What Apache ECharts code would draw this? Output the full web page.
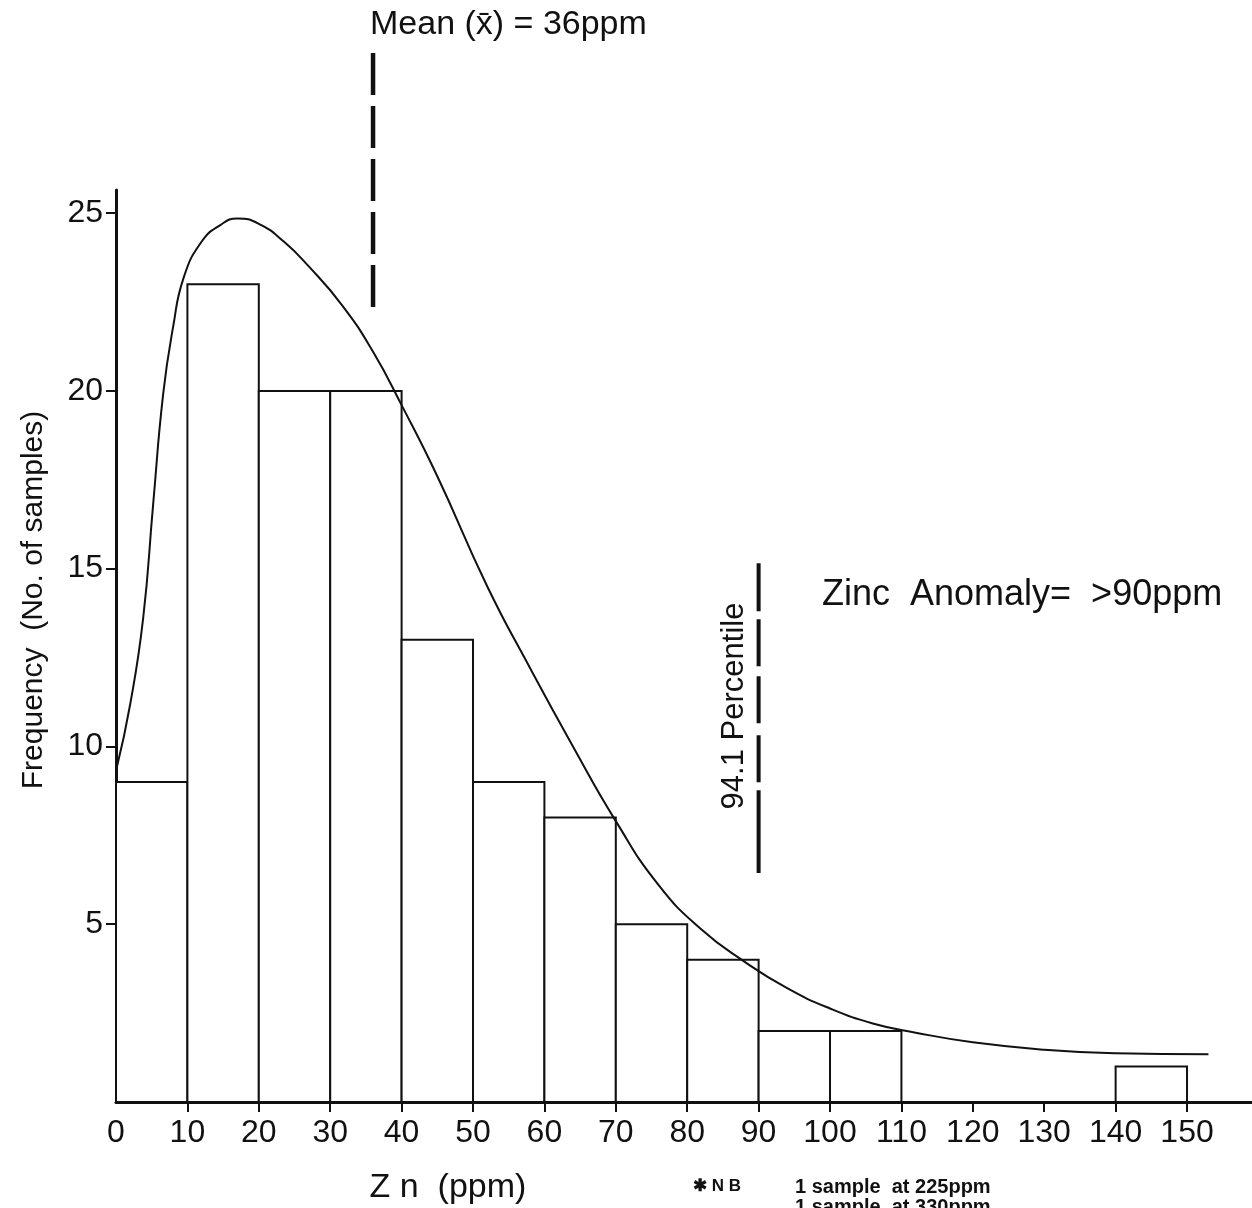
<!DOCTYPE html>
<html>
<head>
<meta charset="utf-8">
<script src="https://cdn.jsdelivr.net/npm/echarts@6/dist/echarts.min.js"></script>
<style>
  html,body{margin:0;padding:0;background:#fff;}
  #main{width:1252px;height:1208px;}
</style>
</head>
<body>
<div id="main"></div>
<script>
// histogram bins: [from, to, count]  (110-140 empty)
var binStart = [0, 10, 20, 30, 40, 50, 60, 70, 80, 90, 100, 140];
var binEnd   = [10, 20, 30, 40, 50, 60, 70, 80, 90, 100, 110, 150];
var counts   = [9, 23, 20, 20, 13, 9, 8, 5, 4, 2, 2, 1];

// fitted curve
var curveX = [0.1, 2, 3.8, 5.2, 6.6, 8, 9.5, 12, 14.5, 17, 20, 23.5, 27, 31.7, 36, 40, 45, 52, 58, 64, 70, 76, 82, 88, 94, 100, 106, 112, 120, 130, 140, 153];
var curveY = [9.4, 11.2, 13.6, 16.8, 19.9, 21.8, 23.2, 24.2, 24.65, 24.85, 24.7, 24.2, 23.5, 22.4, 21.1, 19.6, 17.6, 14.5, 12.2, 10.0, 7.9, 6.1, 4.85, 3.95, 3.2, 2.63, 2.21, 1.95, 1.68, 1.47, 1.37, 1.34];

var xTickLabels = [0, 10, 20, 30, 40, 50, 60, 70, 80, 90, 100, 110, 120, 130, 140, 150];
var xTicks = [10, 20, 30, 40, 50, 60, 70, 80, 90, 100, 110, 120, 130, 140, 150];
var yTicks = [5, 10, 15, 20, 25];

// dashed markers, drawn top -> bottom
var meanLine = [[36, 29.5], [36, 22.35]];
var pctLine  = [[90, 15.15], [90, 6.44]];

var FONT = 'Liberation Sans';
var chart = echarts.init(document.getElementById('main'));

function dashed(lineData, dash, w) {
  return {
    type: 'custom', clip: false, silent: true,
    data: lineData,
    renderItem: function (params, api) {
      if (params.dataIndex > 0) return null;
      var a = api.coord(lineData[0]), b = api.coord(lineData[1]);
      return { type: 'line', shape: { x1: a[0], y1: a[1], x2: b[0], y2: b[1] },
        style: { stroke: '#111', lineWidth: w, lineDash: dash } };
    }
  };
}

chart.setOption({
  animation: false,
  backgroundColor: '#fff',
  grid: { left: 116, right: 0, top: 190, bottom: 106, containLabel: false },
  xAxis: {
    type: 'value', min: 0, max: 159.1,
    axisLine: { show: true, lineStyle: { color: '#111', width: 3 } },
    axisTick: { show: true, length: 10, customValues: xTicks, lineStyle: { color: '#111', width: 2 } },
    axisLabel: { customValues: xTickLabels, color: '#111', fontSize: 32, fontFamily: FONT, margin: 15 },
    splitLine: { show: false }
  },
  yAxis: {
    type: 'value', min: 0, max: 25.65,
    axisLine: { show: true, lineStyle: { color: '#111', width: 3 } },
    axisTick: { show: true, length: 10, customValues: yTicks, lineStyle: { color: '#111', width: 2 } },
    axisLabel: { customValues: yTicks, color: '#111', fontSize: 32, fontFamily: FONT, margin: 13 },
    splitLine: { show: false }
  },
  series: [
    {
      type: 'custom', silent: true,
      data: counts.map(function (c, i) { return [binStart[i], binEnd[i], c]; }),
      renderItem: function (params, api) {
        var tl = api.coord([api.value(0), api.value(2)]);
        var br = api.coord([api.value(1), 0]);
        return { type: 'rect',
          shape: { x: tl[0], y: tl[1], width: br[0] - tl[0], height: br[1] - tl[1] },
          style: { fill: '#fff', stroke: '#111', lineWidth: 2 } };
      }
    },
    {
      type: 'line', silent: true, showSymbol: false, smooth: 0.5, clip: false,
      data: curveX.map(function (x, i) { return [x, curveY[i]]; }),
      lineStyle: { color: '#111', width: 2 }
    },
    dashed(meanLine, [42, 11], 4.5),
    dashed(pctLine, [48, 8, 47, 10, 47, 12, 47, 8, 90, 0], 4)
  ],
  graphic: [
    { type: 'text', left: 370, top: 8, style: { text: 'Mean (x\u0304) = 36ppm', font: '34px ' + FONT, fill: '#111' } },
    { type: 'text', left: 822, top: 577, style: { text: 'Zinc  Anomaly=  >90ppm', font: '36px ' + FONT, fill: '#111' } },
    { type: 'text', x: 734, y: 706, rotation: Math.PI / 2,
      style: { text: '94.1 Percentile', font: '31px ' + FONT, fill: '#111', align: 'center', verticalAlign: 'middle' } },
    { type: 'text', x: 34, y: 600, rotation: Math.PI / 2,
      style: { text: 'Frequency  (No. of samples)', font: '30px ' + FONT, fill: '#111', align: 'center', verticalAlign: 'middle' } },
    { type: 'text', x: 448, y: 1188, style: { text: 'Z n  (ppm)', font: '34px ' + FONT, fill: '#111', align: 'center', verticalAlign: 'middle' } },
    { type: 'text', left: 693, top: 1178, style: { text: '\u2731 N B', font: 'bold 17px ' + FONT, fill: '#111' } },
    { type: 'text', left: 795, top: 1177, style: { text: '1 sample  at 225ppm', font: 'bold 20px ' + FONT, fill: '#111' } },
    { type: 'text', left: 795, top: 1197, style: { text: '1 sample  at 330ppm', font: 'bold 20px ' + FONT, fill: '#111' } }
  ]
});
</script>
</body>
</html>
